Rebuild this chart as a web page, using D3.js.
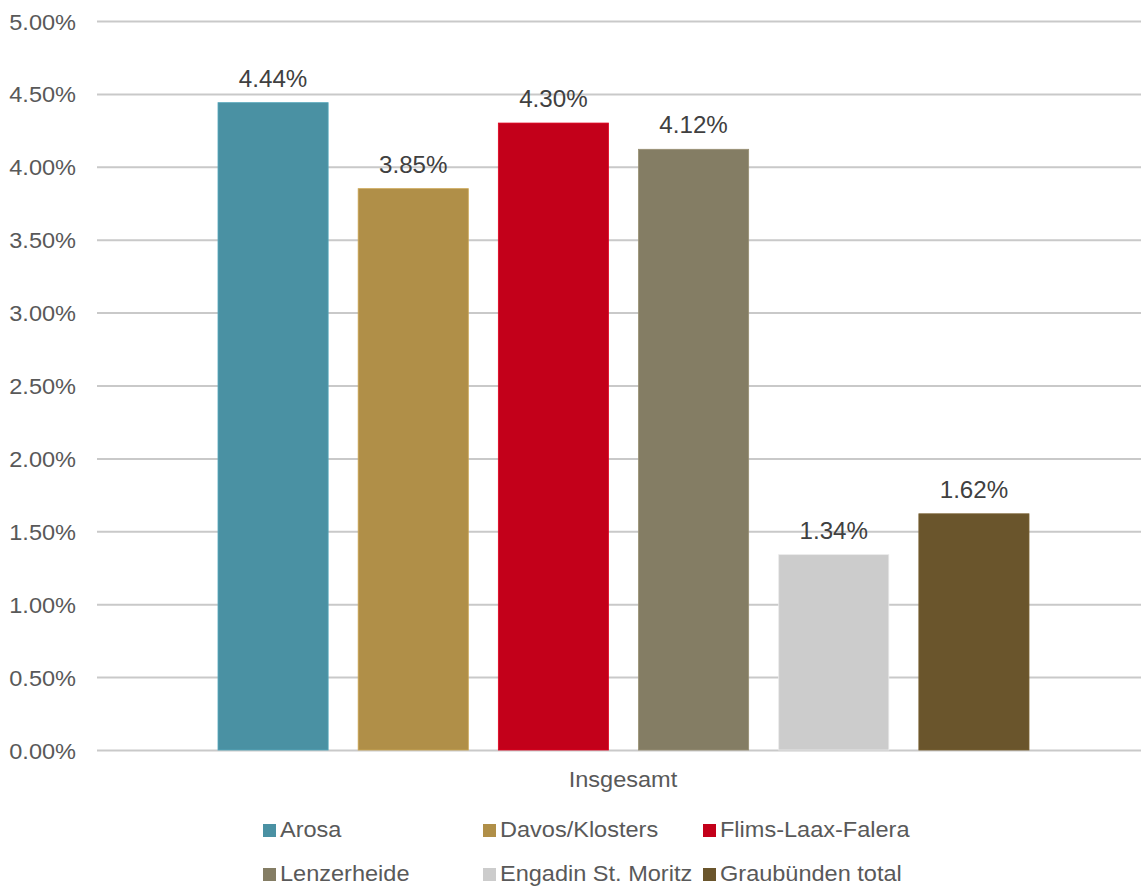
<!DOCTYPE html>
<html><head><meta charset="utf-8">
<script src="https://cdn.jsdelivr.net/npm/d3@7"></script>
<style>body{margin:0;background:#fff}svg{display:block}text{font-family:"Liberation Sans",Arial,sans-serif}</style>
</head><body>
<svg id="c" width="1141" height="887"></svg>
<script>
const categories = ["Insgesamt"];
const series = ["Arosa","Davos/Klosters","Flims-Laax-Falera","Lenzerheide","Engadin St. Moritz","Graubünden total"];
const values = [0.0444,0.0385,0.0430,0.0412,0.0134,0.0162];
const colors = ["#4a91a3","#b08f48","#c3001a","#847d64","#cccccc","#6a552c"];
const yTicks = [0,0.005,0.01,0.015,0.02,0.025,0.03,0.035,0.04,0.045,0.05];

(function(){
const svg = d3.select("#c");
const pL=97,pR=1141,pT=21,pB=750;
const sx=1.07;
const y=d3.scaleLinear().domain([0,0.05]).range([pB,pT]);
const x0=d3.scaleBand().domain(categories).range([pL,pR]);
const x1=d3.scaleBand().domain(series).range([x0("Insgesamt")+121,x0("Insgesamt")+x0.bandwidth()-112]).paddingInner(30/140).paddingOuter(0);

const yAxis=d3.axisLeft(y).tickValues(yTicks).tickSize(-(pR-pL)).tickFormat(d3.format(".2%"));
const g=svg.append("g").attr("transform",`translate(${pL},0)`).call(yAxis);
g.select(".domain").remove();
g.selectAll(".tick line").attr("stroke","#c9c9c9").attr("stroke-width",2);
g.selectAll(".tick text").attr("fill","#595959").attr("font-size",22)
  .attr("x",null).attr("dy",null)
  .attr("transform",`translate(-21,8) scale(${sx},1)`).attr("text-anchor","end");

svg.append("g").selectAll("rect").data(series).join("rect")
  .attr("x",d=>x1(d)).attr("width",x1.bandwidth())
  .attr("y",(d,i)=>y(values[i])).attr("height",(d,i)=>pB-y(values[i]))
  .attr("fill",(d,i)=>colors[i]).attr("stroke",(d,i)=>d3.color(colors[i]).brighter(0.4)).attr("stroke-width",0.8);

svg.append("g").selectAll("text").data(series).join("text")
  .attr("transform",(d,i)=>`translate(${x1(d)+x1.bandwidth()/2},${y(values[i])-16}) scale(1.05,1)`)
  .attr("text-anchor","middle").attr("font-size",23).attr("fill","#404040")
  .text((d,i)=>d3.format(".2%")(values[i]));

svg.append("text").attr("transform",`translate(${(pL+pR)/2+4},${787}) scale(${sx},1)`)
  .attr("text-anchor","middle").attr("font-size",22).attr("fill","#595959").text(categories[0]);

const legX=[263,483,703], legY=[830,874];
const lg=svg.append("g").selectAll("g").data(series).join("g")
  .attr("transform",(d,i)=>`translate(${legX[i%3]},${legY[Math.floor(i/3)]})`);
lg.append("rect").attr("x",0).attr("y",-6).attr("width",13).attr("height",13).attr("fill",(d,i)=>colors[i]);
lg.append("text").attr("transform",`translate(17,7) scale(${sx},1)`).attr("font-size",22).attr("fill","#595959").text(d=>d);
})();
</script>
</body></html>
